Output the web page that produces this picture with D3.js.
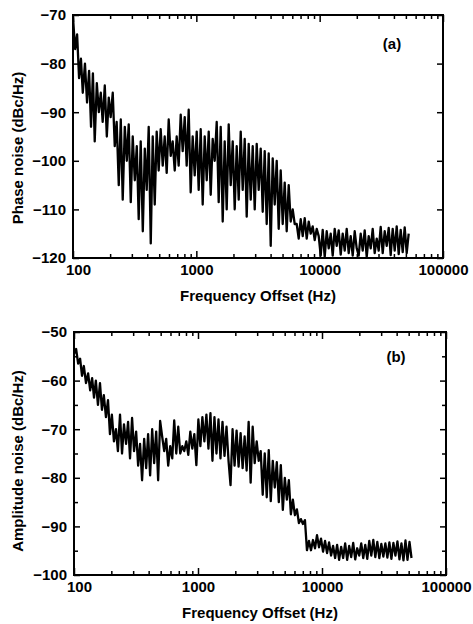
<!DOCTYPE html>
<html>
<head>
<meta charset="utf-8">
<script src="https://cdn.jsdelivr.net/npm/d3@7"></script>
<style>
body { margin: 0; background: #fff; }
text { font-family: "Liberation Sans", Arial, sans-serif; font-weight: bold; fill: #000; }
</style>
</head>
<body>
<div id="chart"></div>
<script>
// Frequency offsets (Hz), shared by both panels
var freqHz = [
    100,104,108,112,116,120,125,130,135,140,145,150,156,162,168,174,181,188,195,
    202,210,218,226,235,244,253,263,273,283,294,305,317,329,341,354,368,382,396,411,427,443,460,477,495,
    514,534,554,575,597,620,643,668,693,719,747,775,805,835,867,900,934,970,
    1007,1045,1085,1126,1169,1214,1260,1308,1357,1409,1463,1518,1576,1636,1698,1763,1830,1900,1972,
    2047,2125,2206,2290,2377,2467,2561,2658,2760,2865,2974,3087,3204,3326,3453,3584,3720,3862,4009,4161,4320,4484,4654,4831,
    5015,5206,5404,5610,5823,6045,6275,6513,6761,7019,7286,7563,7851,8149,8459,8781,9115,9462,9822,
    10196,10583,10986,11404,11838,12288,12755,13240,13744,14267,14810,15373,15958,16565,17195,17849,18528,19233,19964,
    20724,21512,22330,23180,24062,24977,25927,26914,27937,29000,30103,31248,32437,33671,34952,36281,37661,39094,40581,42125,43727,45391,47117,48910,50770,52702
];

// (a) phase noise, dBc/Hz
var phaseNoise = [
    -70.5,-77,-74,-83,-79,-86,-80,-88,-81.5,-93,-82,-96,-84,-90,-86,-92,-84.5,-95,-87,
    -91,-86,-97,-92,-105,-91.5,-108,-93,-100,-92.5,-108.5,-95,-104,-97,-112,-96,-114.5,-97.5,-106,-93,-117,-95,-109,-94,-102,
    -93.5,-101,-95,-102.5,-91.5,-99,-96,-102,-95,-101,-90.5,-98,-91,-101,-89.5,-106.5,-95,-103,
    -94,-106,-93.5,-109,-95,-104,-94,-107,-95.5,-100,-92,-108.5,-93,-112.5,-96,-110,-92.5,-105,-96,
    -110,-97,-108,-94,-106,-95.5,-111.5,-96.5,-108,-97,-110,-96.5,-106,-97.5,-110.5,-98,-113,-98.5,-117.5,-99.5,-109,-100,-114,-102,
    -113,-104.5,-114.5,-105,-112.5,-110,-113,-113,-116,-112,-115.5,-111.8,-116,-112.5,-115,-113.5,-116.3,-114,-115.5,
    -119.5,-114.2,-119.8,-114.5,-118,-115,-119.5,-114,-117.5,-114.3,-119.3,-115,-118.5,-114,-119,-115.5,-119.5,-114.5,-118,
    -119.5,-115,-118.5,-114.3,-119.8,-115.5,-118,-114,-119,-116,-118.5,-113.6,-119,-114.5,-117.5,-113.8,-119.4,-114,-118.5,-113.5,-119.2,-114.2,-118.8,-113.7,-119,-115
];

// (b) amplitude noise, dBc/Hz
var ampNoise = [
    -54.5,-53.5,-56.5,-55.5,-59,-57,-60.5,-58.5,-62,-59.5,-63.5,-60,-65,-60.5,-66,-63,-67.5,-64,-71,
    -67,-72.5,-70,-74.5,-67,-75,-69,-73,-68.5,-76,-67.7,-74.5,-70.5,-77.5,-73,-80.5,-72,-78,-71,-79.5,-70,-77,-70.5,-80.5,-68.3,
    -71.5,-74.5,-72,-77.5,-73.5,-76,-68.2,-75,-69.5,-75,-73.5,-74.5,-72.5,-75.3,-70.5,-74,-71,-77.4,
    -68,-73.5,-67.5,-72.5,-67,-74,-66.7,-76.5,-67.5,-75,-68,-76,-68.5,-75.5,-69.5,-76.5,-81.5,-70,-77.5,
    -70.3,-77.7,-70.8,-78,-71.5,-78.5,-68.5,-81,-69.5,-77,-72.5,-76.5,-74.5,-83.5,-75,-84,-74.3,-84.8,-76.5,-82,-76.8,-85,-77.4,-86.6,
    -80,-84.5,-80.5,-87.5,-84.5,-87.7,-86.5,-89.3,-88.5,-89.5,-88.7,-94.9,-93,-94.9,-92.8,-94.5,-91.8,-94.3,-92.5,
    -95.2,-93,-95.5,-93.3,-96,-94,-96.5,-93.8,-96.9,-94.2,-96.5,-93.5,-96.9,-94,-96.3,-93.4,-96.8,-94.5,-96,
    -93.5,-96.5,-93.8,-96.7,-93,-96,-92.8,-96.3,-93.2,-96.5,-93.6,-96.2,-93.5,-96.4,-93.3,-96.7,-93.4,-96,-93.1,-96.8,-93.5,-97,-92.9,-96.9,-93.2,-96.5
];

// Tick values
var xMajorTicks = [100, 1000, 10000, 100000];
var xMinorTicks = [200,300,400,500,600,700,800,900,2000,3000,4000,5000,6000,7000,8000,9000,
    20000,30000,40000,50000,60000,70000,80000,90000];
var phaseTicks = [-70, -80, -90, -100, -110, -120];
var ampTicks = [-50, -60, -70, -80, -90, -100];
var ampMinorTicks = [-55, -65, -75, -85, -95];

var svgWidth = 473;
var svgHeight = 624;

var svg = d3.select("#chart")
    .append("svg")
    .attr("width", svgWidth)
    .attr("height", svgHeight);

function drawPanel(p) {
    var width = p.right - p.left;
    var height = p.bottom - p.top;

    var chartGroup = svg.append("g")
        .attr("transform", `translate(${p.left},${p.top})`);

    // scales
    var xLogScale = d3.scaleLog().domain([100, 100000]).range([0, width]);
    var yLinearScale = d3.scaleLinear().domain(p.yDomain).range([0, height]);

    // clip the trace to the plot box
    chartGroup.append("clipPath").attr("id", p.id + "-clip")
        .append("rect").attr("width", width).attr("height", height);

    var line = d3.line()
        .x(d => xLogScale(d[0]))
        .y(d => yLinearScale(d[1]));

    chartGroup.append("path")
        .datum(d3.zip(freqHz, p.values))
        .attr("clip-path", `url(#${p.id}-clip)`)
        .attr("d", line)
        .attr("fill", "none")
        .attr("stroke", "#000")
        .attr("stroke-width", 2.3)
        .attr("stroke-linejoin", "round");

    // axes, ticks pointing inward
    var axes = [
        [d3.axisBottom(xLogScale).tickValues(xMajorTicks).tickSize(-7).tickPadding(6).tickFormat(d3.format("d")), `translate(0,${height})`],
        [d3.axisBottom(xLogScale).tickValues(xMinorTicks).tickSize(-4).tickFormat(""), `translate(0,${height})`],
        [d3.axisTop(xLogScale).tickValues(xMajorTicks).tickSize(-7).tickFormat(""), null],
        [d3.axisTop(xLogScale).tickValues(xMinorTicks).tickSize(-4).tickFormat(""), null],
        [d3.axisLeft(yLinearScale).tickValues(p.yTicks).tickSize(-6).tickPadding(7), null],
        [d3.axisRight(yLinearScale).tickValues(p.yTicks).tickSize(-6).tickFormat(""), `translate(${width},0)`]
    ];
    if (p.yMinor) {
        axes.push([d3.axisLeft(yLinearScale).tickValues(p.yMinor).tickSize(-4).tickFormat(""), null]);
        axes.push([d3.axisRight(yLinearScale).tickValues(p.yMinor).tickSize(-4).tickFormat(""), `translate(${width},0)`]);
    }
    axes.forEach(function(a, i) {
        var ag = chartGroup.append("g").call(a[0]);
        if (a[1]) ag.attr("transform", a[1]);
        ag.select(".domain").remove();
        ag.selectAll("line").attr("stroke", "#000").attr("stroke-width", 1.5);
        ag.selectAll("text").attr("font-size", "15px")
            .style("font-family", '"Liberation Sans", Arial, sans-serif')
            .style("font-weight", "bold");
        // nudge the "100" label so it clears the lowest y label
        if (i === 0) ag.selectAll("text").filter(d => d === 100).attr("dx", "5");
    });

    // frame
    chartGroup.append("rect")
        .attr("width", width)
        .attr("height", height)
        .attr("fill", "none")
        .attr("stroke", "#000")
        .attr("stroke-width", 2);

    // panel tag
    chartGroup.append("text")
        .attr("x", p.tagX - p.left)
        .attr("y", p.tagY - p.top)
        .attr("font-size", "15px")
        .attr("text-anchor", "middle")
        .text(p.tag);

    // axis labels
    chartGroup.append("text")
        .attr("x", width / 2)
        .attr("y", height + 43)
        .attr("font-size", "15px")
        .attr("text-anchor", "middle")
        .text("Frequency Offset (Hz)");

    chartGroup.append("text")
        .attr("transform", "rotate(-90)")
        .attr("x", -(p.yTitleCenter - p.top))
        .attr("y", 23 - p.left)
        .attr("font-size", "15px")
        .attr("text-anchor", "middle")
        .text(p.yTitle);
}

drawPanel({
    id: "a", left: 73, right: 443, top: 15, bottom: 258,
    yDomain: [-70, -120], yTicks: phaseTicks, values: phaseNoise,
    tag: "(a)", tagX: 392, tagY: 49,
    yTitle: "Phase noise (dBc/Hz)", yTitleCenter: 148
});

drawPanel({
    id: "b", left: 74, right: 446, top: 332, bottom: 575,
    yDomain: [-50, -100], yTicks: ampTicks, yMinor: ampMinorTicks, values: ampNoise,
    tag: "(b)", tagX: 396, tagY: 362,
    yTitle: "Amplitude noise (dBc/Hz)", yTitleCenter: 461
});
</script>
</body>
</html>
